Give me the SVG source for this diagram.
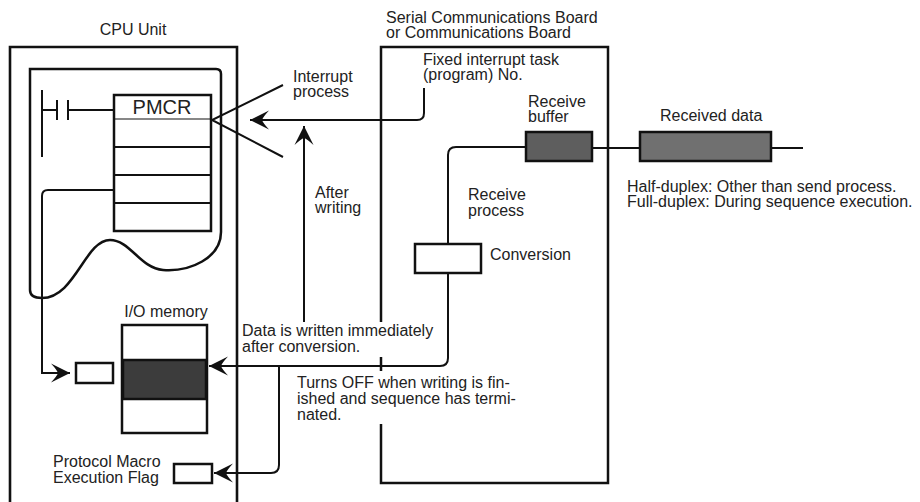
<svg xmlns="http://www.w3.org/2000/svg" width="920" height="502" viewBox="0 0 920 502">
<style>
text{font-family:"Liberation Sans",Arial,Helvetica,sans-serif;font-size:16px;fill:#222}
.box{fill:#fff;stroke:#111;stroke-width:2.5}
.ln{fill:none;stroke:#111;stroke-width:2}
.thick{fill:none;stroke:#111;stroke-width:2.6}
.bg{fill:#fff;stroke:none}
</style>
<defs>
<marker id="ah" viewBox="-20 -11 22 22" refX="0" refY="0" markerWidth="22" markerHeight="22" markerUnits="userSpaceOnUse" orient="auto">
<path d="M0,0 L-19,-9.5 Q-13,-3 -12,0 Q-13,3 -19,9.5 Z" fill="#111"/>
</marker>
</defs>

<g id="cpu-unit">
<path class="thick" d="M10,503 L10,47 L237,47 L237,503"/>
<text x="133" y="35" text-anchor="middle">CPU Unit</text>
</g>

<g id="comm-board">
<rect class="box" x="381" y="47" width="227" height="436" stroke-width="2.6"/>
<text x="386" y="23">Serial Communications Board</text>
<text x="386" y="38">or Communications Board</text>
</g>

<g id="program">
<path class="box" d="M30,69 L216,69 Q221,69 221,74 L221,232 C221,258 190,272 163,270 C140,268 130,240 110,240 C85,240 75,298 42,298 Q30,298 30,290 Z"/>
<line class="ln" x1="42" y1="90" x2="42" y2="157" stroke-width="2.4"/>
<line class="ln" x1="57" y1="100" x2="57" y2="120" stroke-width="2.4"/>
<line class="ln" x1="68" y1="100" x2="68" y2="120" stroke-width="2.4"/>
<line class="ln" x1="42" y1="110" x2="57" y2="110"/>
<line class="ln" x1="68" y1="110" x2="114" y2="110"/>
</g>

<g id="pmcr">
<rect class="box" x="114" y="95" width="97" height="136"/>
<line x1="114" y1="119" x2="211" y2="119" stroke="#111" stroke-width="1.2"/>
<line class="ln" x1="114" y1="147" x2="211" y2="147"/>
<line class="ln" x1="114" y1="175" x2="211" y2="175"/>
<line class="ln" x1="114" y1="203" x2="211" y2="203"/>
<text x="162" y="114" text-anchor="middle" font-size="20" style="font-size:20px">PMCR</text>
</g>

<g id="interrupt-process">
<path class="ln" d="M283,85 L212,120 L283,157"/>
<text x="293" y="82">Interrupt</text>
<text x="293" y="97">process</text>
</g>

<g id="operand-box">
<rect class="box" x="76" y="363" width="37" height="20"/>
</g>

<g id="io-memory">
<rect class="box" x="122" y="325" width="85" height="108"/>
<rect x="123" y="360" width="83" height="39" fill="#3c3c3c" stroke="#111" stroke-width="2.5"/>
<text x="166" y="317" text-anchor="middle">I/O memory</text>
</g>

<g id="execution-flag">
<rect class="box" x="174" y="464" width="38" height="19"/>
<text x="53" y="467">Protocol Macro</text>
<text x="53" y="483">Execution Flag</text>
</g>

<g id="receive-buffer">
<rect x="526" y="132" width="66" height="29" fill="#5e5e5e" stroke="#111" stroke-width="2.5"/>
<text x="528" y="107">Receive</text>
<text x="528" y="122">buffer</text>
</g>

<g id="conversion">
<rect class="box" x="415" y="244" width="66" height="29"/>
<text x="490" y="260">Conversion</text>
</g>

<g id="received-data">
<rect x="640" y="132" width="131" height="29" fill="#707070" stroke="#111" stroke-width="2.5"/>
<text x="660" y="121">Received data</text>
<text x="627" y="192">Half-duplex: Other than send process.</text>
<text x="627" y="207">Full-duplex: During sequence execution.</text>
</g>

<g id="connectors">
<path class="ln" d="M424,88 L424,113 Q424,120 417,120 L250,120" marker-end="url(#ah)"/>
<path class="ln" d="M304,322 L304,126" marker-end="url(#ah)"/>
<path class="ln" d="M114,190 L48,190 Q42,190 42,196 L42,373 L70,373" marker-end="url(#ah)"/>
<path class="ln" d="M526,147 L456,147 Q448,147 448,155 L448,244"/>
<path class="ln" d="M448,273 L448,358 Q448,366 440,366 L209,366" marker-end="url(#ah)"/>
<path class="ln" d="M279,366 L279,465 Q279,473 271,473 L214,473" marker-end="url(#ah)"/>
<line class="ln" x1="592" y1="148" x2="640" y2="148"/>
<line class="ln" x1="771" y1="148" x2="803" y2="148"/>
</g>

<g id="notes">
<rect class="bg" x="240" y="322" width="200" height="35"/>
<text x="242" y="336">Data is written immediately</text>
<text x="242" y="352">after conversion.</text>
<rect class="bg" x="294" y="371" width="232" height="53"/>
<text x="297" y="388">Turns OFF when writing is fin-</text>
<text x="297" y="404">ished and sequence has termi-</text>
<text x="297" y="420">nated.</text>
<text x="304" y="198" dx="11">After</text>
<text x="304" y="213" dx="11">writing</text>
<text x="468" y="200">Receive</text>
<text x="468" y="216">process</text>
<text x="423" y="65">Fixed interrupt task</text>
<text x="423" y="80">(program) No.</text>
</g>
</svg>
